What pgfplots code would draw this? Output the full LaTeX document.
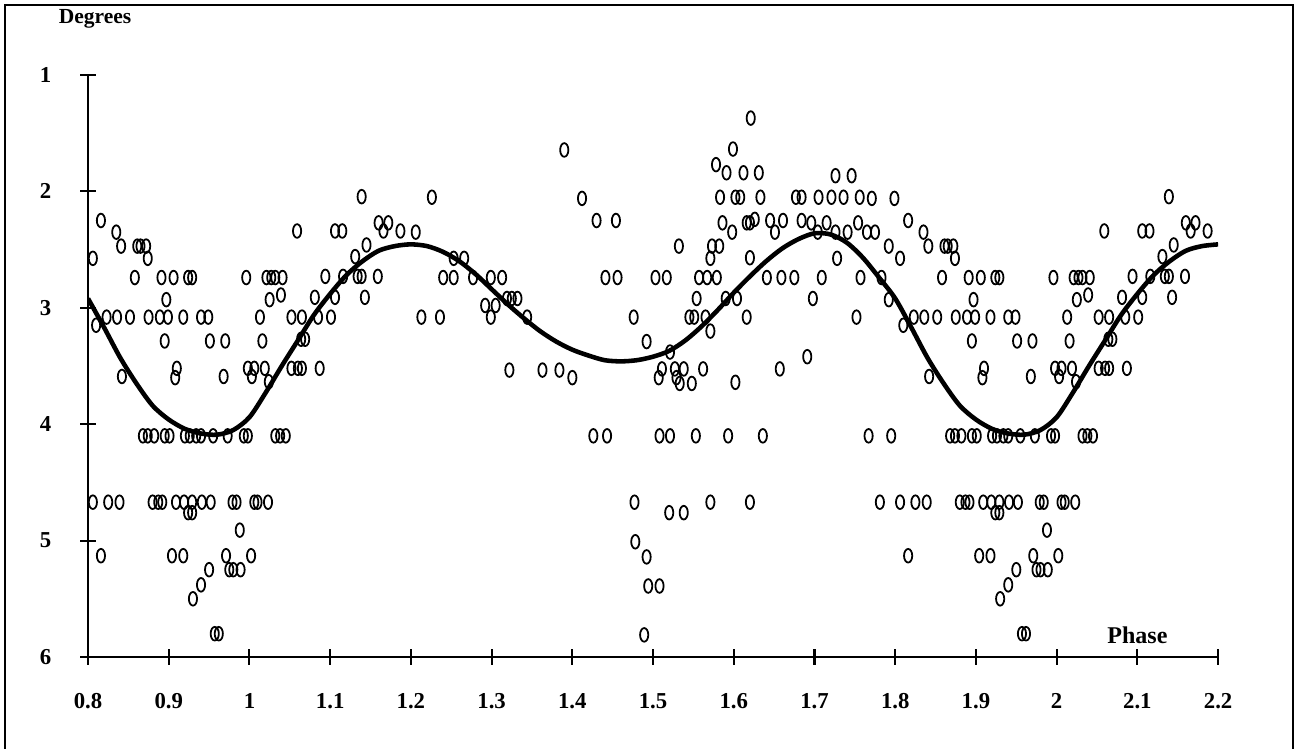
\documentclass[border=0pt]{standalone}
\usepackage{pgfplots}
\pgfplotsset{compat=1.18}
\usepackage{pgfplotstable}
\usepackage{fontspec}
\setmainfont{Liberation Serif}

% observations, phase 1.2 -- 2.2 (phase 0.8 -- 1.2 repeats 1.8 -- 2.2)
\pgfplotstableread{
x y
1.206 2.35
1.213 3.08
1.226 2.05
1.236 3.08
1.240 2.74
1.253 2.575
1.253 2.74
1.266 2.575
1.277 2.74
1.292 2.98
1.299 2.74
1.299 3.08
1.305 2.98
1.313 2.74
1.319 2.92
1.322 3.535
1.325 2.92
1.332 2.92
1.344 3.08
1.363 3.535
1.384 3.535
1.390 1.644
1.400 3.60
1.412 2.06
1.426 4.10
1.430 2.25
1.441 2.74
1.443 4.10
1.454 2.25
1.456 2.74
1.476 3.08
1.477 4.67
1.478 5.01
1.489 5.81
1.492 3.29
1.492 5.14
1.494 5.39
1.503 2.74
1.507 3.60
1.508 4.10
1.508 5.39
1.511 3.525
1.517 2.74
1.520 4.76
1.521 3.38
1.521 4.10
1.527 3.525
1.529 3.60
1.532 2.47
1.533 3.65
1.538 3.525
1.538 4.76
1.545 3.08
1.548 3.65
1.551 3.08
1.553 4.10
1.554 2.92
1.557 2.74
1.562 3.525
1.565 3.08
1.567 2.74
1.571 2.575
1.571 3.20
1.571 4.67
1.573 2.47
1.578 1.77
1.579 2.74
1.582 2.47
1.583 2.05
1.586 2.27
1.590 2.92
1.591 1.84
1.593 4.10
1.598 2.35
1.599 1.636
1.602 2.05
1.602 3.64
1.604 2.92
1.608 2.05
1.612 1.84
1.616 2.27
1.616 3.08
1.620 2.27
1.620 2.57
1.620 4.67
1.621 1.37
1.626 2.24
1.631 1.84
1.633 2.05
1.636 4.10
1.641 2.74
1.645 2.25
1.651 2.35
1.657 3.525
1.659 2.74
1.661 2.25
1.675 2.74
1.677 2.05
1.684 2.05
1.684 2.25
1.691 3.42
1.696 2.27
1.698 2.92
1.704 2.35
1.705 2.05
1.709 2.74
1.715 2.27
1.721 2.05
1.726 1.865
1.726 2.35
1.728 2.575
1.736 2.05
1.741 2.35
1.746 1.865
1.752 3.08
1.754 2.27
1.756 2.05
1.757 2.74
1.765 2.35
1.767 4.10
1.771 2.06
1.775 2.35
1.781 4.67
1.783 2.74
1.792 2.47
1.792 2.93
1.795 4.10
1.799 2.06
1.806 2.575
1.806 4.67
1.810 3.15
1.816 2.25
1.816 5.13
1.823 3.08
1.825 4.67
1.835 2.35
1.836 3.08
1.839 4.67
1.841 2.47
1.842 3.59
1.852 3.08
1.858 2.74
1.861 2.47
1.865 2.47
1.868 4.10
1.872 2.47
1.874 2.575
1.874 4.10
1.875 3.08
1.880 4.67
1.882 4.10
1.887 4.67
1.889 3.08
1.891 2.74
1.892 4.67
1.895 3.285
1.895 4.10
1.897 2.93
1.899 3.08
1.901 4.10
1.904 5.13
1.906 2.74
1.908 3.60
1.909 4.67
1.910 3.52
1.918 3.08
1.918 5.13
1.919 4.67
1.920 4.10
1.924 2.74
1.924 4.76
1.926 4.10
1.929 2.74
1.929 4.67
1.929 4.76
1.930 5.50
1.934 4.10
1.940 3.08
1.940 4.10
1.940 5.38
1.941 4.67
1.949 3.08
1.950 5.25
1.951 3.285
1.952 4.67
1.955 4.10
1.957 5.80
1.962 5.80
1.968 3.59
1.970 3.285
1.971 5.13
1.973 4.10
1.975 5.25
1.979 4.67
1.980 5.25
1.984 4.67
1.988 4.91
1.989 5.25
1.993 4.10
1.996 2.74
1.998 3.52
1.998 4.10
2.002 5.13
2.003 3.59
2.006 3.52
2.006 4.67
2.010 4.67
2.013 3.08
2.016 3.285
2.019 3.52
2.021 2.74
2.023 4.67
2.024 3.635
2.025 2.93
2.027 2.74
2.032 2.74
2.032 4.10
2.038 4.10
2.039 2.89
2.041 2.74
2.045 4.10
2.052 3.08
2.052 3.52
2.059 2.34
2.060 3.52
2.064 3.27
2.065 3.08
2.065 3.52
2.069 3.27
2.081 2.91
2.085 3.08
2.087 3.52
2.094 2.73
2.101 3.08
2.106 2.34
2.106 2.91
2.115 2.34
2.116 2.73
2.131 2.56
2.134 2.73
2.139 2.045
2.139 2.73
2.143 2.91
2.145 2.46
2.159 2.73
2.160 2.27
2.166 2.34
2.172 2.27
2.187 2.34
2.207 2.34
}\obs

% fitted curve
\pgfplotstableread{
x y
0.80 2.92
0.82 3.17
0.84 3.43
0.86 3.65
0.88 3.84
0.90 3.96
0.92 4.04
0.94 4.08
0.96 4.09
0.98 4.05
1.00 3.94
1.02 3.73
1.04 3.50
1.06 3.28
1.08 3.06
1.10 2.88
1.12 2.72
1.14 2.60
1.16 2.51
1.18 2.47
1.20 2.455
1.22 2.47
1.24 2.52
1.26 2.60
1.28 2.71
1.30 2.84
1.32 2.97
1.34 3.09
1.36 3.20
1.38 3.29
1.40 3.36
1.42 3.41
1.44 3.45
1.46 3.46
1.48 3.45
1.50 3.42
1.52 3.37
1.54 3.28
1.56 3.16
1.58 3.02
1.60 2.87
1.62 2.73
1.64 2.60
1.66 2.49
1.68 2.41
1.70 2.36
1.72 2.37
1.74 2.44
1.76 2.57
1.78 2.74
1.80 2.92
1.82 3.17
1.84 3.43
1.86 3.65
1.88 3.84
1.90 3.96
1.92 4.04
1.94 4.08
1.96 4.09
1.98 4.05
2.00 3.94
2.02 3.73
2.04 3.50
2.06 3.28
2.08 3.06
2.10 2.88
2.12 2.72
2.14 2.60
2.16 2.51
2.18 2.47
2.20 2.455
}\fit

\begin{document}
\begin{tikzpicture}
\useasboundingbox (0,0) rectangle (512pt,-295.8pt);
\draw[line width=0.8pt] (2pt,-296pt) -- (2pt,-2pt) -- (511.2pt,-2pt) -- (511.2pt,-296pt);
\begin{axis}[
    at={(34.8pt,-29.66pt)}, anchor=north west,
    scale only axis,
    width=446.8pt, height=230.1pt,
    xmin=0.8, xmax=2.2,
    ymin=1, ymax=6,
    y dir=reverse,
    axis x line=bottom, axis y line=left,
    axis line style={-, line width=0.8pt},
    xtick={0.8,0.9,1,1.1,1.2,1.3,1.4,1.5,1.6,1.7,1.8,1.9,2,2.1,2.2},
    xticklabels={0.8,0.9,1,1.1,1.2,1.3,1.4,1.5,1.6,1.7,1.8,1.9,2,2.1,2.2},
    ytick={1,2,3,4,5,6},
    yticklabels={1,2,3,4,5,6},
    tick align=center,
    major tick length=6pt,
    tick style={black, line width=0.8pt},
    ticklabel style={font=\bfseries\fontsize{9}{10}\selectfont},
    xticklabel style={yshift=-8pt},
    yticklabel style={xshift=-8pt},
    clip marker paths=true,
]
\addplot[only marks, mark=o, mark size=2.7pt,
    mark options={xscale=0.6, line width=0.7pt}] table[x=x, y=y] {\obs};
\addplot[only marks, mark=o, mark size=2.7pt,
    mark options={xscale=0.6, line width=0.7pt},
    restrict x to domain=0.79:1.2] table[x expr=\thisrow{x}-1, y=y] {\obs};
\addplot[black, line width=1.8pt, smooth, no marks] table[x=x, y=y] {\fit};
\node[font=\bfseries\fontsize{9.5}{11}\selectfont] at (axis cs:2.1,5.81) {Phase};
\end{axis}
\node[font=\bfseries\fontsize{8.5}{9}\selectfont] at (37.6pt,-7.4pt) {Degrees};
\end{tikzpicture}
\end{document}
